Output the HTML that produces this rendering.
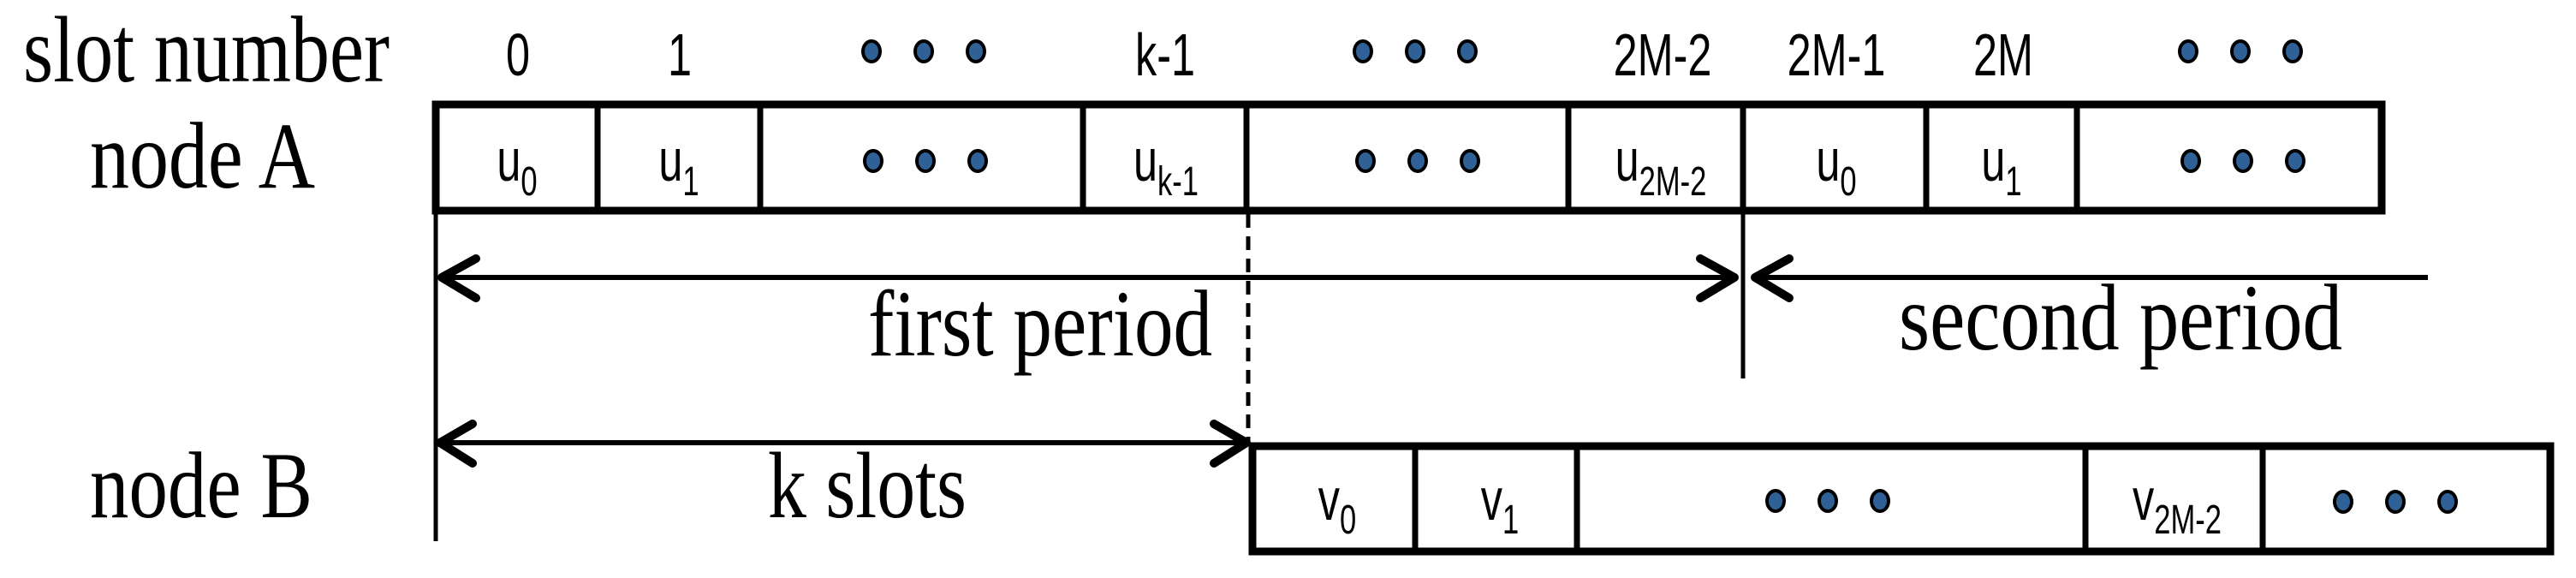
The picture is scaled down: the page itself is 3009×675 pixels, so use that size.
<!DOCTYPE html>
<html><head><meta charset="utf-8"><style>html,body{margin:0;padding:0;background:#fff}svg{display:block}</style></head>
<body>
<svg width="3009" height="675" viewBox="0 0 3009 675" xmlns="http://www.w3.org/2000/svg">
<defs>
<g id="dots"><ellipse cx="-61" cy="0" rx="10" ry="12" fill="#2f6197" stroke="#000" stroke-width="4"/><ellipse cx="0" cy="0" rx="10" ry="12" fill="#2f6197" stroke="#000" stroke-width="4"/><ellipse cx="61" cy="0" rx="10" ry="12" fill="#2f6197" stroke="#000" stroke-width="4"/></g>
</defs>
<g font-family="Liberation Serif, serif" font-size="110" fill="#000">
<text x="27" y="95" textLength="428" lengthAdjust="spacingAndGlyphs">slot number</text>
<text x="105" y="219" textLength="263" lengthAdjust="spacingAndGlyphs">node A</text>
<text x="105" y="604" textLength="260" lengthAdjust="spacingAndGlyphs">node B</text>
<text x="1014" y="415" textLength="402" lengthAdjust="spacingAndGlyphs">first period</text>
<text x="897" y="604" textLength="232" lengthAdjust="spacingAndGlyphs">k slots</text>
<text x="2218" y="408" textLength="518" lengthAdjust="spacingAndGlyphs">second period</text>
</g>
<g font-family="Liberation Sans, sans-serif" font-size="70" fill="#000" text-anchor="middle">
<text transform="translate(605,88) scale(0.72,1)">0</text>
<text transform="translate(794,88) scale(0.72,1)">1</text>
<text transform="translate(1361,88) scale(0.72,1)">k-1</text>
<text transform="translate(1942,88) scale(0.72,1)">2M-2</text>
<text transform="translate(2145,88) scale(0.72,1)">2M-1</text>
<text transform="translate(2340,88) scale(0.72,1)">2M</text>
</g>
<use href="#dots" x="1079" y="60"/><use href="#dots" x="1653" y="60"/><use href="#dots" x="2617" y="60"/>
<use href="#dots" x="1081" y="188"/><use href="#dots" x="1656" y="188"/><use href="#dots" x="2620" y="188"/>
<use href="#dots" x="2135" y="585"/><use href="#dots" x="2798" y="586"/>
<g stroke="#000" fill="none">
<rect x="509" y="122" width="2273" height="124" stroke-width="9"/>
<line x1="698" y1="122" x2="698" y2="246" stroke-width="7"/>
<line x1="888" y1="122" x2="888" y2="246" stroke-width="7"/>
<line x1="1265" y1="122" x2="1265" y2="246" stroke-width="7"/>
<line x1="1456" y1="122" x2="1456" y2="246" stroke-width="7"/>
<line x1="1832" y1="122" x2="1832" y2="246" stroke-width="7"/>
<line x1="2036" y1="122" x2="2036" y2="246" stroke-width="7"/>
<line x1="2250" y1="122" x2="2250" y2="246" stroke-width="7"/>
<line x1="2426" y1="122" x2="2426" y2="246" stroke-width="7"/>
<rect x="1463" y="521" width="1516" height="123" stroke-width="9"/>
<line x1="1653" y1="521" x2="1653" y2="644" stroke-width="7"/>
<line x1="1842" y1="521" x2="1842" y2="644" stroke-width="7"/>
<line x1="2436" y1="521" x2="2436" y2="644" stroke-width="7"/>
<line x1="2643" y1="521" x2="2643" y2="644" stroke-width="7"/>
<line x1="509" y1="250" x2="509" y2="632" stroke-width="5"/>
<line x1="1458" y1="250" x2="1458" y2="516" stroke-width="5" stroke-dasharray="16,10"/>
<line x1="2036" y1="250" x2="2036" y2="442" stroke-width="5"/>
<line x1="515" y1="324" x2="2026" y2="324" stroke-width="6"/>
<line x1="2050" y1="324" x2="2836" y2="324" stroke-width="6"/>
<line x1="515" y1="517" x2="1452" y2="517" stroke-width="6"/>
<g stroke-width="10" stroke-linecap="round" stroke-linejoin="round">
<polyline points="556,302 516,324 556,348"/>
<polyline points="1986,302 2026,324 1986,348"/>
<polyline points="2090,302 2050,324 2090,348"/>
<polyline points="552,495 514,517 552,541"/>
<polyline points="1418,495 1456,517 1418,541"/>
</g>
</g>
<g font-family="Liberation Sans, sans-serif" fill="#000" text-anchor="middle">
<text transform="translate(604,211) scale(0.72,1)" font-size="70">u<tspan font-size="48" dy="17">0</tspan></text>
<text transform="translate(793,211) scale(0.72,1)" font-size="70">u<tspan font-size="48" dy="17">1</tspan></text>
<text transform="translate(1362,211) scale(0.72,1)" font-size="70">u<tspan font-size="48" dy="17">k-1</tspan></text>
<text transform="translate(1940,211) scale(0.72,1)" font-size="70">u<tspan font-size="48" dy="17">2M-2</tspan></text>
<text transform="translate(2145,211) scale(0.72,1)" font-size="70">u<tspan font-size="48" dy="17">0</tspan></text>
<text transform="translate(2338,211) scale(0.72,1)" font-size="70">u<tspan font-size="48" dy="17">1</tspan></text>
<text transform="translate(1562,607) scale(0.72,1)" font-size="70">v<tspan font-size="48" dy="16">0</tspan></text>
<text transform="translate(1752,607) scale(0.72,1)" font-size="70">v<tspan font-size="48" dy="16">1</tspan></text>
<text transform="translate(2543,607) scale(0.72,1)" font-size="70">v<tspan font-size="48" dy="16">2M-2</tspan></text>
</g>
</svg>
</body></html>
